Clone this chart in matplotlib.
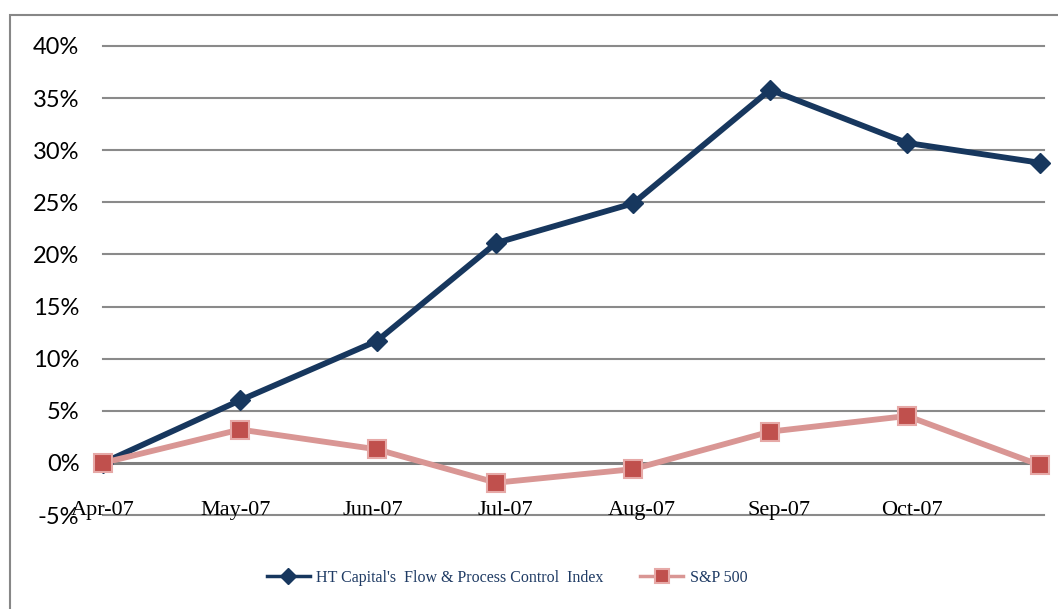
import matplotlib
matplotlib.use("Agg")
import matplotlib.pyplot as plt
from matplotlib.patches import Rectangle
import datetime as dt

# point dates (the chart uses a date axis)
dates = ["2007-04-01", "2007-05-02", "2007-06-02", "2007-06-29",
         "2007-07-30", "2007-08-30", "2007-09-30", "2007-10-30"]
ht_index = [0.0, 6.0, 11.7, 21.1, 24.9, 35.8, 30.7, 28.8]
sp500 = [0.0, 3.2, 1.3, -1.9, -0.6, 3.0, 4.5, -0.2]

tick_dates = ["2007-04-01", "2007-05-01", "2007-06-01", "2007-07-01",
              "2007-08-01", "2007-09-01", "2007-10-01"]
tick_labels = ["Apr-07", "May-07", "Jun-07", "Jul-07", "Aug-07", "Sep-07", "Oct-07"]
y_ticks = [-5, 0, 5, 10, 15, 20, 25, 30, 35, 40]

ht_name = "HT Capital's  Flow & Process Control  Index"
sp_name = "S&P 500"

to_date = lambda s: dt.datetime.strptime(s, "%Y-%m-%d")
x = [to_date(d) for d in dates]
xt = [to_date(d) for d in tick_dates]

fig = plt.figure(figsize=(10.58, 6.09), dpi=100)
ax = fig.add_axes([103 / 1058, 1 - 515 / 609, (1044 - 103) / 1058, (515 - 46) / 609])

# outer chart frame
fig.patches.append(Rectangle((10 / 1058, -0.05), 1.1, 1 - 15 / 609 + 0.05,
                             transform=fig.transFigure, fill=False,
                             edgecolor="#878787", lw=1.5))

for y in y_ticks:
    if y == 0:
        ax.axhline(y, color="#7f7f7f", lw=2.2, zorder=1, clip_on=False)
    else:
        ax.axhline(y, color="#8a8a8a", lw=1.5, zorder=1, clip_on=False)

ax.plot(x, ht_index, color="#17375E", lw=4.2, marker="D", markersize=10.5,
        markerfacecolor="#17375E", markeredgecolor="#17375E",
        label=ht_name, zorder=3, clip_on=False)
ax.plot(x, sp500, color="#D99694", lw=4.2, marker="s", markersize=12.5,
        markerfacecolor="#C0504D", markeredgecolor="#E6A9A7", markeredgewidth=1.5,
        label=sp_name, zorder=4, clip_on=False)

ax.set_xlim(to_date("2007-04-01"), to_date("2007-10-31"))
ax.set_ylim(-5, 40)
ax.set_yticks(y_ticks)
ax.set_yticklabels([f"{v}%" for v in y_ticks], fontfamily="Lato", fontsize=17)
ax.set_xticks(xt)
ax.set_xticklabels(tick_labels, fontfamily="Liberation Serif", fontsize=16)
ax.tick_params(axis="y", length=0, pad=17)
ax.tick_params(axis="x", length=0, pad=-10)
for s in ax.spines.values():
    s.set_visible(False)
ax.patch.set_visible(False)

leg = fig.legend(loc="center", bbox_to_anchor=(507 / 1058, 1 - 578 / 609), ncol=2,
                 frameon=False, prop={"family": "Liberation Serif", "size": 11.5},
                 handlelength=2.7, handletextpad=0.4, columnspacing=2.3,
                 markerscale=0.75)
for t in leg.get_texts():
    t.set_color("#1F3B64")
for h in leg.legend_handles:
    h.set_linewidth(2.5)

fig.savefig("out.png", dpi=100)
